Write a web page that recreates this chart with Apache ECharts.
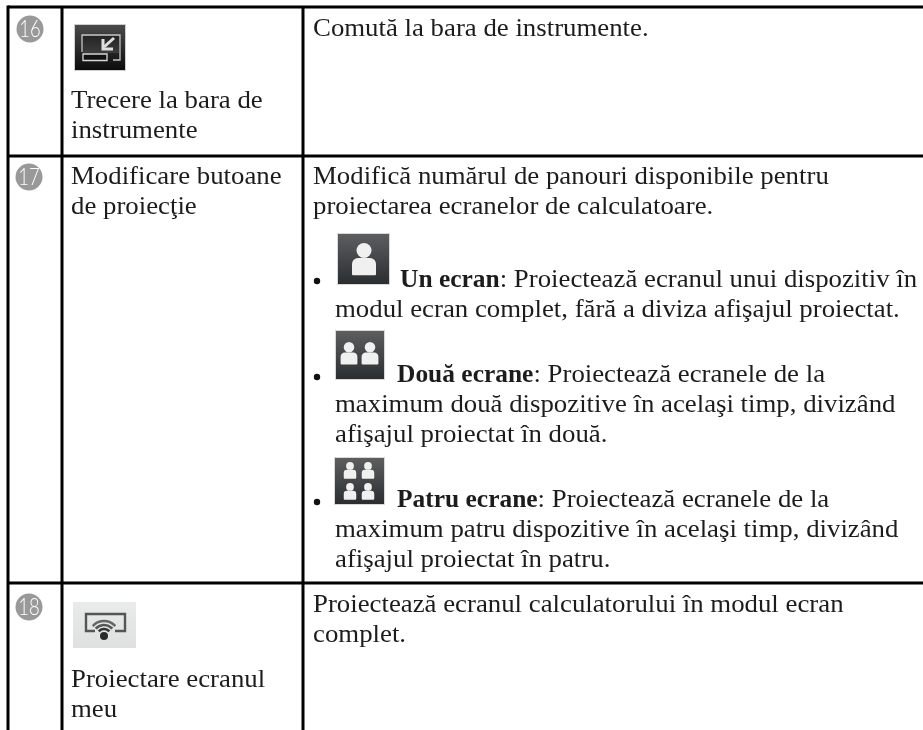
<!DOCTYPE html>
<html><head><meta charset="utf-8">
<style>html,body{margin:0;padding:0;background:#fff}#c{width:923px;height:730px}</style>
<script src="https://cdn.jsdelivr.net/npm/echarts@6/dist/echarts.min.js"></script>
</head><body><div id="c"></div>
<script>
const rowNumbers = ["16","17","18"];
const nameLines = ["Trecere la bara de","instrumente","Modificare butoane","de proiecţie","Proiectare ecranul","meu"];
const descBold = ["","","","Un ecran","","Două ecrane","","","Patru ecrane","","","",""];
const descLines = [
 "Comută la bara de instrumente.",
 "Modifică numărul de panouri disponibile pentru",
 "proiectarea ecranelor de calculatoare.",
 ": Proiectează ecranul unui dispozitiv în",
 "modul ecran complet, fără a diviza afişajul proiectat.",
 ": Proiectează ecranele de la",
 "maximum două dispozitive în acelaşi timp, divizând",
 "afişajul proiectat în două.",
 ": Proiectează ecranele de la",
 "maximum patru dispozitive în acelaşi timp, divizând",
 "afişajul proiectat în patru.",
 "Proiectează ecranul calculatorului în modul ecran",
 "complet."
];
// layout (kept apart from the content)
const nameBaselines = [108,138,184,214,687,717];
const descX = [313,313,313,400,335,397,335,335,397,335,335,313,313];
const descBaselines = [36,184,214,287,317,382,412,442,507,537,567,612,642];
const chart = echarts.init(document.getElementById('c'),null,{renderer:'canvas'});
const FAM='"Liberation Serif"', FS=25, SX=1.072, SXB=1.018, INK='#1c1c1c', BASE=6;
const els=[];
const ctx=document.createElement('canvas').getContext('2d');
function line(x1,y1,x2,y2,w,c){els.push({type:'line',shape:{x1,y1,x2,y2},style:{stroke:c||'#000',lineWidth:w||3,fill:null}});}
function poly(points,stroke,lineWidth){els.push({type:'polyline',shape:{points},style:{stroke,lineWidth,fill:null}});}
function txt(t,x,y,weight,sx){
 els.push({type:'text',x,y:y+BASE,scaleX:sx||SX,style:{text:t,fill:INK,font:(weight||'')+' '+FS+'px '+FAM,textAlign:'left',verticalAlign:'bottom'}});
}
function rect(x,y,w,h,fill,r,extra){els.push({type:'rect',shape:{x,y,width:w,height:h,r:r||0},style:Object.assign({fill},extra||{})});}
function vgrad(a,b){return new echarts.graphic.LinearGradient(0,0,0,1,[{offset:0,color:a},{offset:1,color:b}]);}
line(8,7,923,7);line(8,156,923,156);line(8,583,923,583);
line(8,5.5,8,730);line(62,7,62,730);line(303,7,303,730);
[[30,29],[29,177],[29,607]].forEach((a,i)=>{
 els.push({type:'circle',shape:{cx:a[0],cy:a[1],r:13.5},style:{fill:'#999999'}});
 els.push({type:'text',x:a[0],y:a[1]+0.5,scaleX:0.8,style:{text:rowNumbers[i],fill:'#fff',font:'300 23px Lato',textAlign:'center',verticalAlign:'middle'}});
});
nameLines.forEach((t,i)=>txt(t,71,nameBaselines[i]));
descLines.forEach((t,i)=>{
 let x=descX[i];
 if(descBold[i]){
  txt(descBold[i],x,descBaselines[i],'bold',SXB);
  ctx.font='bold '+FS+'px '+FAM;
  x+=ctx.measureText(descBold[i]).width*SXB;
 }
 txt(t,x,descBaselines[i]);
});
[281,377,502].forEach(y=>els.push({type:'circle',shape:{cx:317,cy:y,r:3.2},style:{fill:'#111'}}));
function person(cx,top,s){
 els.push({type:'circle',shape:{cx,cy:top+5*s,r:5*s},style:{fill:'#f0f0f0'}});
 rect(cx-8*s,top+10*s,16*s,11.5*s,'#f0f0f0',[4*s,4*s,1,1]);
}
function darkIcon(x,y,w,h){
 rect(x-1,y-1,w+2,h+2,'#d8d8d8');
 rect(x,y,w,h,vgrad('#5c5e60','#2b2e31'));
}
darkIcon(338,234,51,50);person(364,243,1.5);
darkIcon(336,331,48,48);person(349,342,1.05);person(370,342,1.05);
darkIcon(335,458,49,46);
[[350,462],[368,462],[350,483],[368,483]].forEach(p=>person(p[0],p[1],0.78));
// toolbar switch icon
rect(74,24,52,47,'#cfcfcf');
rect(75,25,50,45,vgrad('#4a4a4a','#0c0c0c'));
rect(83,36,36,17,vgrad('#242424','#3c3c3c'));
poly([[82,52],[82,35],[120,35],[120,60],[113,60]],'#c4c4c4',1.3);
rect(83,54,24,6.5,'#111',0,{stroke:'#d8d8d8',lineWidth:1.3});
poly([[114,38],[104,47]],'#e0e0e0',3);
poly([[103,39],[103,49],[113,49]],'#e0e0e0',3);
// my screen icon
rect(73,602,63,46,vgrad('#e9eaea','#dfe1e1'));
poly([[95,631],[86,631],[86,614],[125,614],[125,631],[115,631]],'#555',2.4);
[[7,'#333'],[11,'#555'],[15,'#666']].forEach(a=>els.push({type:'arc',shape:{cx:104,cy:636,r:a[0],startAngle:-Math.PI*0.77,endAngle:-Math.PI*0.23},style:{stroke:a[1],lineWidth:2.6,fill:null}}));
els.push({type:'circle',shape:{cx:104,cy:636,r:4},style:{fill:'#2a2a2a'}});
chart.setOption({animation:false,graphic:els});
</script></body></html>
